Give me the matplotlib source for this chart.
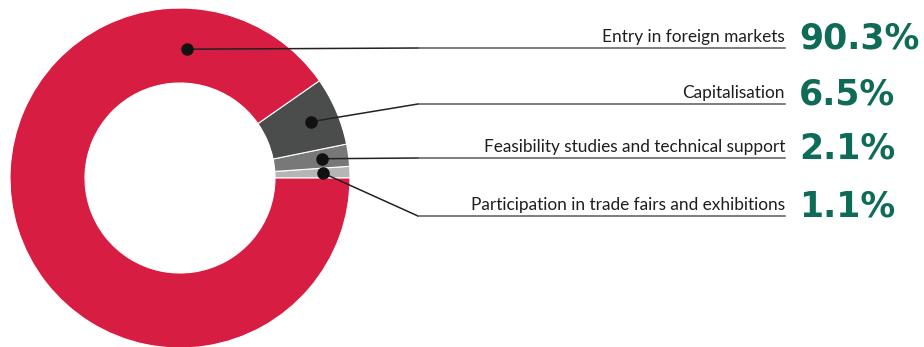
import matplotlib
matplotlib.use("Agg")
import matplotlib.pyplot as plt
import numpy as np

# shares of support by purpose, top to bottom as listed
labels = ["Entry in foreign markets", "Capitalisation",
          "Feasibility studies and technical support",
          "Participation in trade fairs and exhibitions"]
shares = [90.3, 6.5, 2.1, 1.1]
colors = ["#D81D42", "#4B4D4C", "#787878", "#B4B5B4"]

W, H = 924, 347
fig = plt.figure(figsize=(W / 100, H / 100), dpi=100)
ax = fig.add_axes([0, 0, 1, 1])

cx, cy = 180, 169
R, ring = 170, 75

# pie runs counterclockwise from 3 o'clock, smallest slice first
wedges, _ = ax.pie(shares[::-1], colors=colors[::-1], startangle=0,
                   counterclock=True, radius=R, center=(cx, cy),
                   wedgeprops=dict(width=ring, edgecolor="white", linewidth=0.8))
ax.set_xlim(0, W)
ax.set_ylim(0, H)
ax.set_aspect("equal")
ax.axis("off")

# leader line rows (y in data units), label/percent anchors
row_y = [299, 243, 189, 131]
elbow_x, end_x, pct_x = 418, 785, 799

for i, (lab, val) in enumerate(zip(labels, shares)):
    w = wedges[len(shares) - 1 - i]
    if i == 0:
        ang, rr = 87, 129
    else:
        ang, rr = (w.theta1 + w.theta2) / 2, 143
    dx = cx + rr * np.cos(np.radians(ang))
    dy = cy + rr * np.sin(np.radians(ang))
    y = row_y[i]
    ax.plot([dx, elbow_x], [dy, y], color="#222222", lw=1.1, zorder=3)
    ax.plot([elbow_x, end_x], [y, y], color="#5a5a5a", lw=1.1, zorder=3)
    ax.scatter([dx], [dy], s=64, color="#111111", zorder=4)
    ax.text(end_x, y + 6, lab, ha="right", va="baseline", fontsize=12.4,
            family="Lato", color="#1e1e1e")
    ax.text(pct_x, y, f"{val}%", ha="left", va="baseline", fontsize=25,
            family="DejaVu Sans", fontweight="bold", color="#0E6B57")

fig.savefig("out.png", dpi=100)
